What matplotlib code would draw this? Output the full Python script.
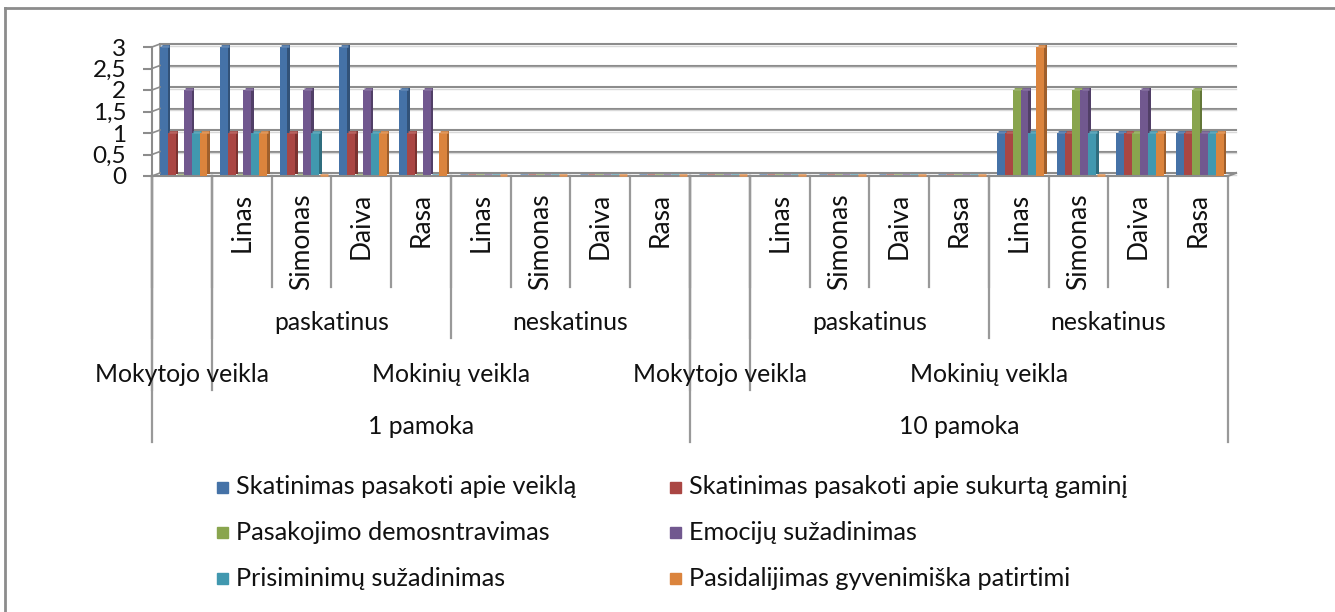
import matplotlib
matplotlib.use('Agg')
import matplotlib.pyplot as plt
import matplotlib.transforms as mtransforms
from matplotlib.patches import Rectangle
from matplotlib.lines import Line2D
from matplotlib.colors import to_rgb
from matplotlib.ticker import FuncFormatter

plt.rcParams['font.family'] = ['Lato', 'DejaVu Sans']

# ---- data ----
pamokos = ['1 pamoka', '10 pamoka']
veiklos = ['Mokytojo veikla', 'Mokinių veikla']
skatinimas = ['paskatinus', 'neskatinus']
mokiniai = ['Linas', 'Simonas', 'Daiva', 'Rasa']

series = ['Skatinimas pasakoti apie veiklą',
          'Skatinimas pasakoti apie sukurtą gaminį',
          'Pasakojimo demosntravimas',
          'Emocijų sužadinimas',
          'Prisiminimų sužadinimas',
          'Pasidalijimas gyvenimiška patirtimi']
colors = ['#4572A7', '#AA4643', '#89A54E', '#71588F', '#4198AF', '#DB843D']

#            mok  pask 1p     nesk 1p    mok  pask 10p   nesk 10p
veikla    = [3,   3, 3, 3, 2,  0, 0, 0, 0, 0,  0, 0, 0, 0,  1, 1, 1, 1]
gaminys   = [1,   1, 1, 1, 1,  0, 0, 0, 0, 0,  0, 0, 0, 0,  1, 1, 1, 1]
demonstr  = [0,   0, 0, 0, 0,  0, 0, 0, 0, 0,  0, 0, 0, 0,  2, 2, 1, 2]
emocijos  = [2,   2, 2, 2, 2,  0, 0, 0, 0, 0,  0, 0, 0, 0,  2, 2, 2, 1]
prisimin  = [1,   1, 1, 1, 0,  0, 0, 0, 0, 0,  0, 0, 0, 0,  1, 1, 1, 1]
patirtis  = [1,   1, 0, 1, 1,  0, 0, 0, 0, 0,  0, 0, 0, 0,  3, 0, 1, 1]
values = [veikla, gaminys, demonstr, emocijos, prisimin, patirtis]

yticks = [0, 0.5, 1, 1.5, 2, 2.5, 3]

# build the category hierarchy (18 categories)
cats = []   # (pamoka, veikla, skatinimas, mokinys)
for p in pamokos:
    cats.append((p, veiklos[0], '', ''))
    for s in skatinimas:
        for m in mokiniai:
            cats.append((p, veiklos[1], s, m))
n = len(cats)

# ---- figure ----
W, H = 1335, 612
DPI = 100
fig = plt.figure(figsize=(W / DPI, H / DPI), dpi=DPI)
fig.patch.set_facecolor('white')

def fy(p):
    return 1 - p / H

ax_left, ax_right, ax_top, ax_bot = 152, 1228, 47, 176
ax = fig.add_axes([ax_left / W, fy(ax_bot), (ax_right - ax_left) / W, (ax_bot - ax_top) / H])
ax.set_xlim(0, n)
ax.set_ylim(0, 3)
ax.patch.set_alpha(0)
for s in ['top', 'right']:
    ax.spines[s].set_visible(False)
grey = '#8c8c8c'
ax.spines['left'].set_color(grey)
ax.spines['left'].set_linewidth(1.5)
ax.spines['bottom'].set_color(grey)
ax.spines['bottom'].set_linewidth(1.5)
ax.set_xticks([])
ax.set_yticks(yticks)
ax.yaxis.set_major_formatter(FuncFormatter(lambda v, _: ('%g' % v).replace('.', ',')))
ax.tick_params(axis='y', length=6.5, width=1.5, color=grey, pad=12, labelsize=17.5,
               labelcolor='#111111')

# 3D back wall: shifted gridlines
DX, DY = 8, 3
back = mtransforms.offset_copy(ax.transData, fig, x=DX, y=DY, units='dots')
for y in yticks:
    ax.plot([0, n], [y, y], color=grey, lw=1.5, transform=back, clip_on=False, zorder=0)
    ax.plot([0, n], [y, y], color='#d9d9d9', lw=1.0, transform=mtransforms.offset_copy(
        ax.transData, fig, x=DX, y=DY - 1.5, units='dots'), clip_on=False, zorder=0)
ax.plot([0, 0], [0, 3], color=grey, lw=1.2, transform=back, clip_on=False, zorder=0)

fig.canvas.draw()
for y in yticks:
    x0, y0 = ax.transData.transform((0, y))
    fig.add_artist(Line2D([x0, x0 + DX], [y0, y0 + DY], color=grey, lw=1.2,
                          transform=mtransforms.IdentityTransform()))
x0, y0 = ax.transData.transform((n, 0))
fig.add_artist(Line2D([x0, x0 + DX], [y0, y0 + DY], color=grey, lw=1.5,
                      transform=mtransforms.IdentityTransform()))

# ---- bars ----
cat_px = (ax_right - ax_left) / n
gap = 8 / cat_px
bw = 7.9 / cat_px
side = mtransforms.offset_copy(ax.transData, fig, x=2.5, y=2.5, units='dots')
topf = mtransforms.offset_copy(ax.transData, fig, x=1.2, y=1.2, units='dots')

def shade(c, f):
    r, g, b = to_rgb(c)
    return (r * f, g * f, b * f)

def tint(c, f):
    r, g, b = to_rgb(c)
    return (r + (1 - r) * f, g + (1 - g) * f, b + (1 - b) * f)

for j, (vals, col) in enumerate(zip(values, colors)):
    xs = [i + gap + j * bw for i in range(n)]
    ax.bar(xs, vals, width=bw, align='edge', color=shade(col, 0.72),
           transform=side, zorder=2 + j * 0.1, clip_on=False)
    ax.bar(xs, vals, width=bw, align='edge', color=col, zorder=2.05 + j * 0.1,
           clip_on=False)
    ax.hlines(vals, xs, [x + bw for x in xs], colors=[tint(col, 0.15)], lw=1.8,
              transform=topf, zorder=2.06 + j * 0.1, clip_on=False)

# ---- multi-level category axis ----
lab = mtransforms.blended_transform_factory(ax.transData, fig.transFigure)
FS = 17.8
txt = '#111111'
sep_grey = '#999999'

def vline(x, bottom):
    ax.add_line(Line2D([x, x], [fy(ax_bot), fy(bottom)], color=sep_grey, lw=1.6,
                       transform=lab, clip_on=False))

def spans(level):
    out = []
    start = 0
    for i in range(1, n + 1):
        if i == n or cats[i][:level + 1] != cats[start][:level + 1]:
            out.append((cats[start][level], start, i))
            start = i
    return out

# level 4: names (rotated)
for i, c in enumerate(cats):
    if c[3]:
        ax.text(i + 0.5, fy(193), c[3], rotation=90, ha='center', va='top',
                fontsize=19, color=txt, transform=lab)
level_y = {2: 322, 1: 374, 0: 426}
level_end = {3: 287, 2: 338, 1: 390, 0: 442}
for level in [3, 2, 1, 0]:
    for text, a, b in spans(level):
        vline(a, level_end[level])
        if level < 3 and text:
            ax.text((a + b) / 2, fy(level_y[level]), text, ha='center', va='center',
                    fontsize=FS, color=txt, transform=lab)
vline(n, level_end[0])

# ---- legend ----
col_x = [217, 670]
row_y = [487, 532, 578]
for k, (name, col) in enumerate(zip(series, colors)):
    cx = col_x[k % 2]
    ry = row_y[k // 2]
    fig.add_artist(Rectangle((cx / W, fy(ry + 5.5)), 11 / W, 11 / H, color=col,
                             transform=fig.transFigure))
    fig.text((cx + 19) / W, fy(ry), name, ha='left', va='center', fontsize=18.2,
             color=txt)

# ---- outer frame ----
fig.add_artist(Line2D([5 / W, 5 / W], [0, fy(8)], color=grey, lw=2, transform=fig.transFigure))
fig.add_artist(Line2D([5 / W, 1], [fy(8), fy(8)], color=grey, lw=2, transform=fig.transFigure))

fig.savefig('out.png', dpi=DPI, facecolor='white')
